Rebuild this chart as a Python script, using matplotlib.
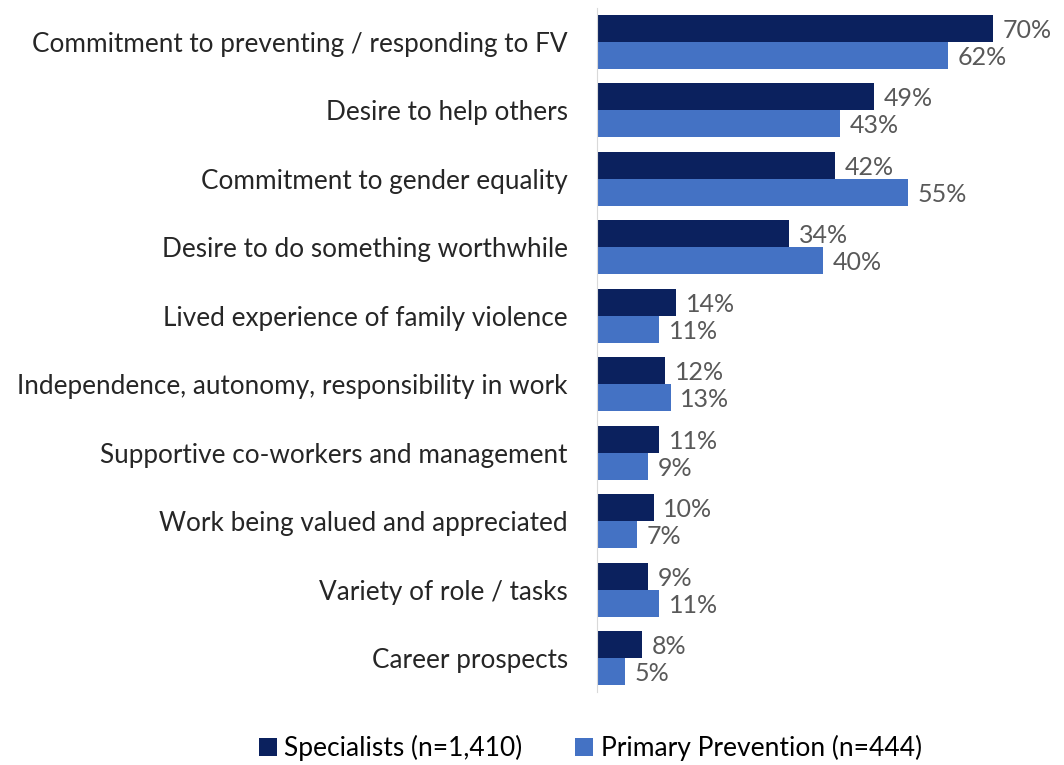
import numpy as np
import matplotlib
matplotlib.use('Agg')
from matplotlib import pyplot as plt

## Motivations for working in the sector, by workforce group
categories = ['Commitment to preventing / responding to FV',
              'Desire to help others',
              'Commitment to gender equality',
              'Desire to do something worthwhile',
              'Lived experience of family violence',
              'Independence, autonomy, responsibility in work',
              'Supportive co-workers and management',
              'Work being valued and appreciated',
              'Variety of role / tasks',
              'Career prospects']
specialists = [70, 49, 42, 34, 14, 12, 11, 10, 9, 8]
prevention = [62, 43, 55, 40, 11, 13, 9, 7, 11, 5]
series_names = ['Specialists (n=1,410)', 'Primary Prevention (n=444)']

dark = '#0b215e'
light = '#4472c4'
label_col = '#595959'

plt.rcParams['font.family'] = ['Lato', 'DejaVu Sans']

fig = plt.figure(figsize=(10.64, 7.65), dpi=100)
ax = fig.add_axes([0.561, 0.095, 0.43, 0.895])

y = np.arange(len(categories))
h = 0.395
b1 = ax.barh(y - h/2, specialists, height=h, color=dark, label=series_names[0])
b2 = ax.barh(y + h/2, prevention, height=h, color=light, label=series_names[1])

# value labels just past the end of each bar
for bars, vals in ((b1, specialists), (b2, prevention)):
    for bar, v in zip(bars, vals):
        ax.annotate('%d%%' % v, (bar.get_width(), bar.get_y() + bar.get_height()/2 + 0.03),
                    xytext=(7, 0), textcoords='offset points',
                    va='center', ha='left', fontsize=18, color=label_col)

ax.set_ylim(len(categories) - 0.5, -0.5)
ax.set_xlim(0, 80.8)
ax.set_yticks(y)
ax.set_yticklabels(categories, fontsize=18.8, color='#262626')
ax.tick_params(axis='y', length=0, pad=21)
ax.set_xticks([])
for s in ['top', 'right', 'bottom']:
    ax.spines[s].set_visible(False)
ax.spines['left'].set_color('#d9d9d9')

fig.legend(handles=[b1, b2], loc='center', bbox_to_anchor=(0.555, 0.022), ncol=2,
           frameon=False, fontsize=19, handlelength=0.65, handleheight=0.65,
           handletextpad=0.3, columnspacing=2.0)

fig.savefig('out.png', dpi=100)
